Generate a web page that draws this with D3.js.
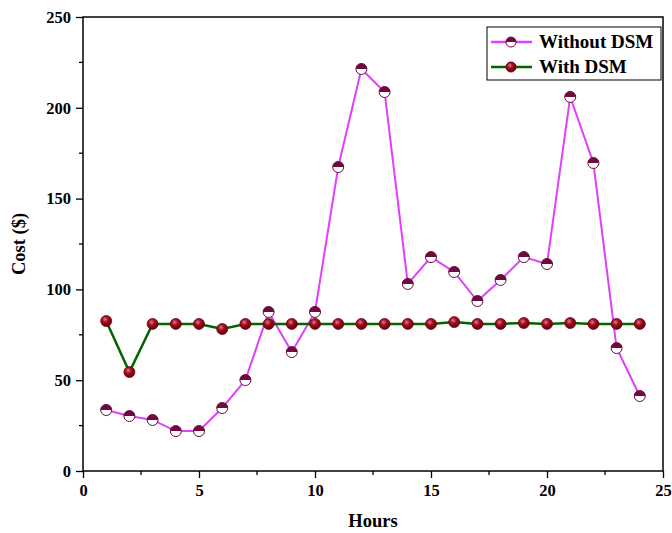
<!DOCTYPE html>
<html>
<head>
<meta charset="utf-8">
<script src="https://cdn.jsdelivr.net/npm/d3@7"></script>
<style>
  body { margin: 0; background: #fff; }
  text { font-family: "Liberation Serif", "Times New Roman", serif; font-weight: bold; }
</style>
</head>
<body>
<div id="app"></div>
<script>
// chart values
const hours = [1,2,3,4,5,6,7,8,9,10,11,12,13,14,15,16,17,18,19,20,21,22,23,24];
const withoutDSM = [33.6,30.3,28.1,22,22,34.7,50.1,87.6,65.5,87.6,167.4,221.4,208.7,103,117.8,109.6,93.6,105.2,117.8,114,206,169.6,67.7,41.3];
const withDSM = [82.6,54.5,81,81,81,78.2,81,81,81,81,81,81,81,81,81,82,81,81,81.5,81,81.5,81,81,81];
const xTicks = [0,5,10,15,20,25];
const yTicks = [0,50,100,150,200,250];
const seriesNames = ["Without DSM", "With DSM"];

const width = 672, height = 533;
const margin = {left: 83, right: 9, top: 17, bottom: 62};

const svg = d3.select("#app").append("svg")
    .attr("width", width)
    .attr("height", height);

const defs = svg.append("defs");
const ball = defs.append("radialGradient")
    .attr("id", "ball")
    .attr("cx", "40%").attr("cy", "35%").attr("r", "60%");
ball.append("stop").attr("offset", "0%").attr("stop-color", "#e07a9a");
ball.append("stop").attr("offset", "45%").attr("stop-color", "#a0101e");
ball.append("stop").attr("offset", "100%").attr("stop-color", "#6a0010");

const half = defs.append("linearGradient")
    .attr("id", "half")
    .attr("x1", 0).attr("y1", 0).attr("x2", 0).attr("y2", 1);
half.append("stop").attr("offset", "50%").attr("stop-color", "#6e0a3e");
half.append("stop").attr("offset", "50%").attr("stop-color", "#ffffff");

const x = d3.scaleLinear().domain([0, 25]).range([margin.left, width - margin.right]);
const y = d3.scaleLinear().domain([0, 250]).range([height - margin.bottom, margin.top]);

// frame
svg.append("rect")
    .attr("x", x(0)).attr("y", y(250))
    .attr("width", x(25) - x(0)).attr("height", y(0) - y(250))
    .attr("fill", "none").attr("stroke", "#000").attr("stroke-width", 1.5);

// minor ticks
const xMinor = d3.range(2.5, 25, 5);
const yMinor = d3.range(25, 250, 50);
svg.append("g").selectAll("line").data(xMinor).join("line")
    .attr("x1", d => x(d)).attr("x2", d => x(d))
    .attr("y1", y(0)).attr("y2", y(0) + 4)
    .attr("stroke", "#000").attr("stroke-width", 1.3);
svg.append("g").selectAll("line").data(yMinor).join("line")
    .attr("y1", d => y(d)).attr("y2", d => y(d))
    .attr("x1", x(0)).attr("x2", x(0) - 4)
    .attr("stroke", "#000").attr("stroke-width", 1.3);

const xAxis = svg.append("g")
    .attr("transform", `translate(0,${y(0)})`)
    .call(d3.axisBottom(x).tickValues(xTicks).tickSize(7).tickPadding(6));
const yAxis = svg.append("g")
    .attr("transform", `translate(${x(0)},0)`)
    .call(d3.axisLeft(y).tickValues(yTicks).tickSize(7).tickPadding(5));

[xAxis, yAxis].forEach(a => {
    a.select(".domain").remove();
    a.selectAll(".tick line").attr("stroke-width", 1.3);
    a.selectAll("text").attr("font-size", 16.5).attr("fill", "#000")
        .attr("font-family", "Liberation Serif").attr("font-weight", "bold");
});

svg.append("text")
    .attr("x", (x(0) + x(25)) / 2).attr("y", 527)
    .attr("text-anchor", "middle").attr("font-size", 18.5)
    .text("Hours");
svg.append("text")
    .attr("transform", `translate(25,${(y(0) + y(250)) / 2}) rotate(-90)`)
    .attr("text-anchor", "middle").attr("font-size", 18.5)
    .text("Cost ($)");

const line = d3.line()
    .x((d, i) => x(hours[i]))
    .y(d => y(d));

svg.append("path").datum(withoutDSM)
    .attr("d", line).attr("fill", "none")
    .attr("stroke", "#e040fb").attr("stroke-width", 2);
svg.append("path").datum(withDSM)
    .attr("d", line).attr("fill", "none")
    .attr("stroke", "#006400").attr("stroke-width", 2.5);

svg.append("g").selectAll("circle").data(withDSM).join("circle")
    .attr("cx", (d, i) => x(hours[i])).attr("cy", d => y(d)).attr("r", 5.5)
    .attr("fill", "url(#ball)").attr("stroke", "#7a0010").attr("stroke-width", 0.8);
svg.append("g").selectAll("circle").data(withoutDSM).join("circle")
    .attr("cx", (d, i) => x(hours[i])).attr("cy", d => y(d)).attr("r", 5.5)
    .attr("fill", "url(#half)").attr("stroke", "#6e0a3e").attr("stroke-width", 1);

// legend
const lg = svg.append("g").attr("transform", "translate(487,27)");
lg.append("rect").attr("width", 174).attr("height", 53)
    .attr("fill", "#fff").attr("stroke", "#000").attr("stroke-width", 1);
const legendItems = [
    {name: seriesNames[0], stroke: "#e040fb", fill: "url(#half)", ms: "#6e0a3e"},
    {name: seriesNames[1], stroke: "#006400", fill: "url(#ball)", ms: "#7a0010"}
];
legendItems.forEach((it, i) => {
    const yy = 15 + i * 25;
    lg.append("line").attr("x1", 4).attr("x2", 45).attr("y1", yy).attr("y2", yy)
        .attr("stroke", it.stroke).attr("stroke-width", 2.5);
    lg.append("circle").attr("cx", 24).attr("cy", yy).attr("r", 5)
        .attr("fill", it.fill).attr("stroke", it.ms).attr("stroke-width", 1);
    lg.append("text").attr("x", 52).attr("y", yy + 6)
        .attr("font-size", 19).text(it.name);
});
</script>
</body>
</html>
